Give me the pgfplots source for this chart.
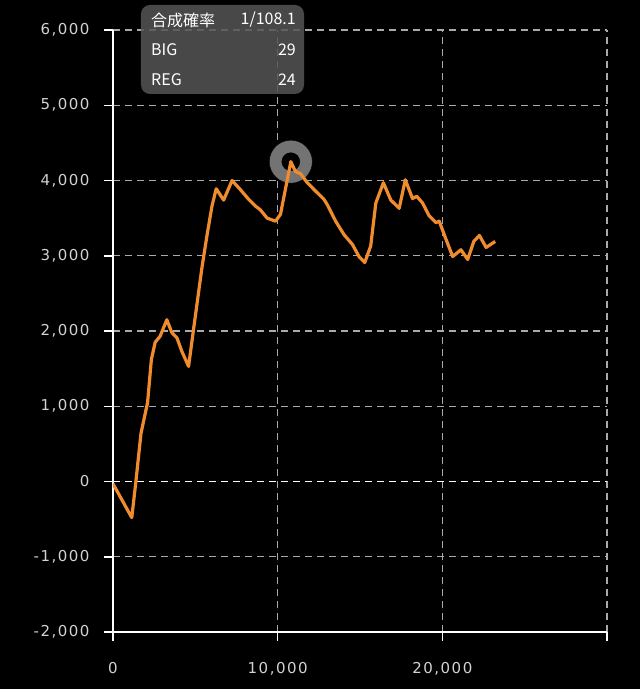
\documentclass[border=0pt]{standalone}
\usepackage{pgfplots}
\pgfplotsset{compat=1.18}
\usepackage{fontspec}
\newfontfamily\tickfont[LetterSpace=10]{DejaVu Sans}
\newfontfamily\cjk{Noto Sans CJK JP}

\definecolor{lineorange}{RGB}{240,140,45}
\definecolor{gridgray}{RGB}{170,170,170}
\definecolor{labelgray}{RGB}{210,210,210}
\definecolor{tipgray}{RGB}{85,85,85}
\definecolor{ringgray}{RGB}{115,115,115}

\begin{document}
\begin{tikzpicture}[x=1pt,y=1pt]
  % black page, same size as the reference
  \fill[black] (-113,-57) rectangle (527,632);
  \useasboundingbox (-113,-57) rectangle (527,632);

  \begin{axis}[
    at={(0,0)}, anchor=south west,
    scale only axis, width=494pt, height=602pt,
    xmin=0, xmax=30000, ymin=-2000, ymax=6000,
    scaled x ticks=false, scaled y ticks=false,
    clip marker paths=true,
    axis x line*=bottom, axis y line*=left,
    axis line style={white, line width=1.5pt, -},
    tick style={white, line width=1.5pt},
    tick align=outside, major tick length=9pt,
    xtick={0,10000,20000,30000},
    xticklabels={0,{10,000},{20,000},{}},
    ytick={-2000,-1000,0,1000,2000,3000,4000,5000,6000},
    yticklabels={{-2,000},{-1,000},0,{1,000},{2,000},{3,000},{4,000},{5,000},{6,000}},
    ticklabel style={font=\tickfont\fontsize{15}{15}\selectfont, text=labelgray},
    xticklabel style={yshift=-18pt},
    yticklabel style={xshift=-11pt},
    grid=major,
    major grid style={gridgray, line width=1.4pt, dash pattern=on 7pt off 5pt},
    extra y ticks={0}, extra y tick labels={},
    extra y tick style={major grid style={white, line width=1.6pt, dash pattern=on 7pt off 5pt}},
  ]
    % highlight ring on the top point
    \addplot[only marks, mark=*, mark size=21.5pt,
      mark options={draw=none, fill=ringgray}] coordinates {(10800,4250)};
    \addplot[only marks, mark=*, mark size=9pt,
      mark options={draw=none, fill=black}] coordinates {(10800,4250)};

    \addplot[lineorange, line width=3.2pt, line join=round, mark=none] coordinates {
      (0,-30) (1140,-480) (1390,0) (1700,640) (2100,1050) (2330,1620)
      (2560,1850) (2860,1930) (3270,2150) (3570,1980) (3880,1910)
      (4180,1730) (4590,1530) (4890,2020) (5400,2840) (5700,3260)
      (6010,3660) (6270,3890) (6720,3740) (7230,4000) (7730,3880)
      (8240,3750) (8650,3660) (8950,3610) (9360,3500) (9870,3460)
      (10170,3550) (10800,4250) (11080,4120) (11390,4090) (11800,3970)
      (12300,3860) (12810,3750) (13010,3680) (13520,3460) (14030,3280)
      (14540,3150) (14940,2990) (15290,2910) (15650,3130) (15960,3700)
      (16420,3970) (16870,3740) (17380,3630) (17750,4010) (18190,3760)
      (18450,3790) (18800,3700) (19200,3530) (19610,3440) (19810,3460)
      (20220,3220) (20630,2990) (21130,3080) (21540,2950) (21910,3190)
      (22250,3270) (22660,3110) (23210,3190)
    };
  \end{axis}

  % tooltip box
  \fill[tipgray, fill opacity=0.85, rounded corners=9pt] (28,538) rectangle (191,627);
  \begin{scope}[every node/.style={text=white, inner sep=0pt,
      font=\cjk\fontsize{16}{16}\selectfont}]
    \node[anchor=west] at (38,612) {合成確率};
    \node[anchor=east] at (183,612) {1/108.1};
    \node[anchor=west] at (38,582) {BIG};
    \node[anchor=east] at (183,582) {29};
    \node[anchor=west] at (38,552) {REG};
    \node[anchor=east] at (183,552) {24};
  \end{scope}
\end{tikzpicture}
\end{document}
